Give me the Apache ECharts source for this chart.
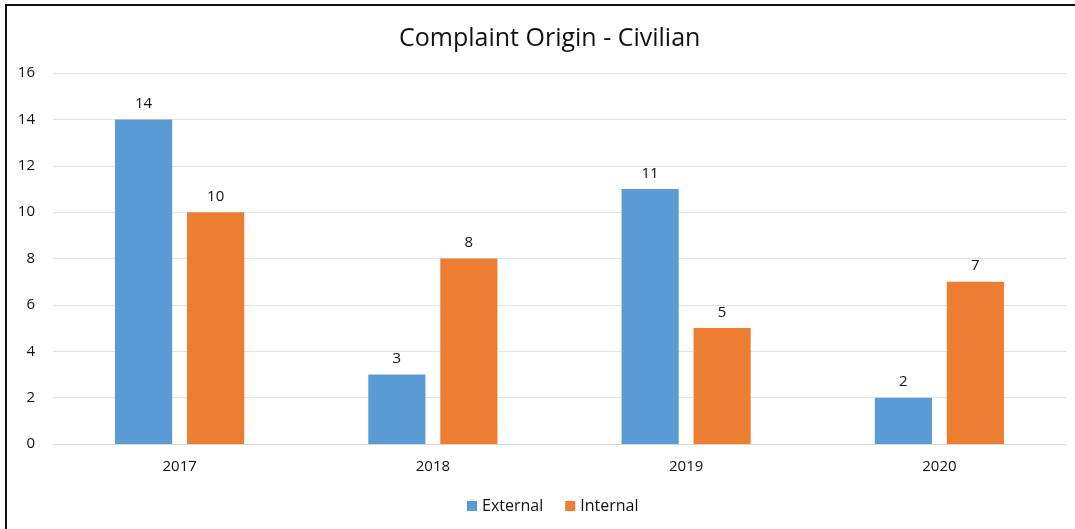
<!DOCTYPE html>
<html>
<head>
<meta charset="utf-8">
<script src="https://cdn.jsdelivr.net/npm/echarts@6/dist/echarts.min.js"></script>
<style>
  html, body { margin: 0; padding: 0; background: #fff; }
  #frame { position: absolute; left: 5px; top: 4px; width: 1080px; height: 540px;
           border-left: 2px solid #111; border-top: 2px solid #111; }
  #chart { position: absolute; left: 0; top: 0; width: 1075px; height: 529px; }
</style>
</head>
<body>
<div id="frame"></div>
<div id="chart"></div>
<script>
var years = ['2017', '2018', '2019', '2020'];
var external_data = [14, 3, 11, 2];
var internal_data = [10, 8, 5, 7];

var font = '"Open Sans", "Liberation Sans", sans-serif';

var myChart = echarts.init(document.getElementById('chart'));
myChart.setOption({
    animation: false,
    title: {
        text: 'Complaint Origin - Civilian',
        left: 394,
        top: 21,
        textStyle: { fontFamily: font, fontSize: 25, fontWeight: 'normal', color: '#111' }
    },
    legend: {
        data: ['External', 'Internal'],
        bottom: 10,
        left: 462,
        itemWidth: 10,
        itemHeight: 10,
        itemGap: 22,
        icon: 'rect',
        textStyle: { fontFamily: font, fontSize: 16, color: '#111' }
    },
    grid: { left: 53, right: 9, top: 73, bottom: 85 },
    xAxis: {
        type: 'category',
        data: years,
        axisLine: { lineStyle: { color: '#d9d9d9' } },
        axisTick: { show: false },
        axisLabel: { fontFamily: font, fontSize: 15, color: '#111', margin: 15 }
    },
    yAxis: {
        type: 'value',
        min: 0,
        max: 16,
        interval: 2,
        splitLine: { lineStyle: { color: '#e3e3e3' } },
        axisLabel: { fontFamily: font, fontSize: 15, color: '#111', margin: 18 }
    },
    series: [
        {
            name: 'External',
            type: 'bar',
            data: external_data,
            barGap: '26%',
            barCategoryGap: '49%',
            itemStyle: { color: '#5b9bd5' },
            label: { show: true, position: 'top', distance: 8, fontFamily: font, fontSize: 15, color: '#111' }
        },
        {
            name: 'Internal',
            type: 'bar',
            data: internal_data,
            itemStyle: { color: '#ed7d31' },
            label: { show: true, position: 'top', distance: 8, fontFamily: font, fontSize: 15, color: '#111' }
        }
    ]
});
</script>
</body>
</html>
